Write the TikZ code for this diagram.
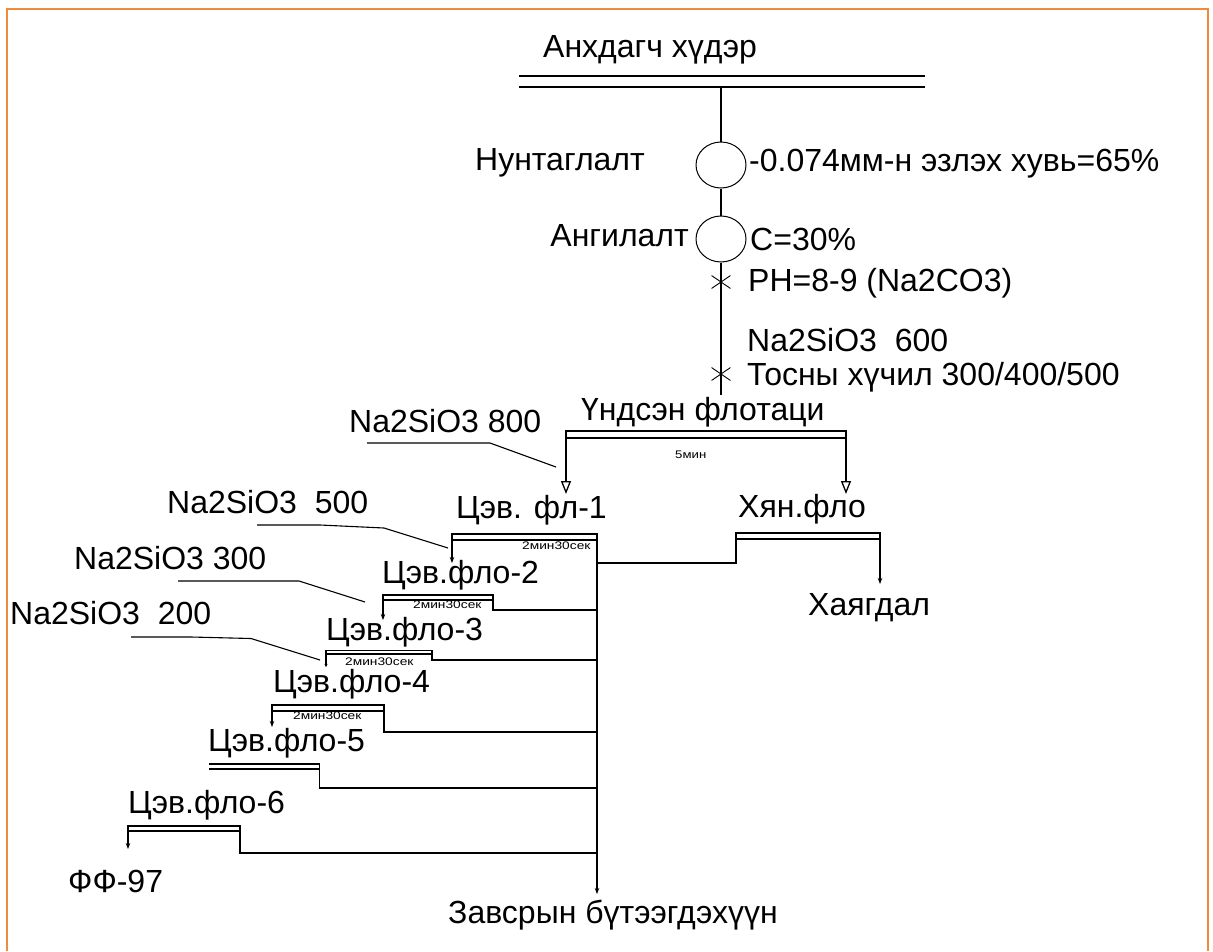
\documentclass[tikz,border=0pt]{standalone}
\usepackage{fontspec}
\setmainfont{Liberation Sans}
\usetikzlibrary{arrows.meta,shapes.geometric,shapes.misc}
\definecolor{frameor}{RGB}{240,138,60}
\begin{document}
\begin{tikzpicture}[x=1pt,y=-1pt,
 lbl/.style={font=\fontsize{32}{38}\selectfont,inner sep=0pt,anchor=base west},
 lble/.style={lbl,anchor=base east},
 small/.style={font=\fontsize{11}{13}\selectfont,inner sep=0pt,anchor=base west},
 ln/.style={line width=1.3pt},
 ldr/.style={line width=1.1pt},
 oarr/.style={-{Triangle[open,length=13pt,width=10pt]}},
 sarr/.style={-{Stealth[length=6pt,width=4.5pt]}},
 mill/.style={draw,ellipse,line width=1pt,minimum width=50pt,minimum height=46pt,inner sep=0pt},
 crossmk/.style={draw,cross out,line width=0.9pt,minimum width=18pt,minimum height=12pt,inner sep=0pt}]
\useasboundingbox (0,0) rectangle (1213,951);
% frame
\coordinate (fr1) at (7,951); \coordinate (fr2) at (7,9);
\coordinate (fr3) at (1208,9); \coordinate (fr4) at (1208,951);
\draw[frameor,line width=2.2pt] (fr1) -- (fr2) -- (fr3) -- (fr4);

% feed
\node[lbl] (ore) at (543,57) {Анхдагч хүдэр};
\coordinate (d1a) at (519,76); \coordinate (d1b) at (925,76);
\coordinate (d2a) at (519,87); \coordinate (d2b) at (925,87);
\draw[ln] (d1a) -- (d1b);
\draw[ln] (d2a) -- (d2b);
\coordinate (feed) at (721,87);
\node[mill] (m1) at (721,165) {};
\node[mill] (m2) at (721,239) {};
\coordinate (fend) at (721,395);
\draw[ln] (feed) -- (m1.north);
\draw[ln] (m1.south) -- (m2.north);
\draw[ln] (m2.south) -- (fend);
\node[crossmk] (x1) at (721,282) {};
\node[crossmk] (x2) at (721,374) {};

\node[lble] (grind) at (645,170) {Нунтаглалт};
\node[lbl] (grindp) at (749,171) {-0.074мм-н эзлэх хувь=65\%};
\node[lble] (cls) at (689,246) {Ангилалт};
\node[lbl] (clsp) at (750,250) {C=30\%};
\node[lbl] (ph) at (748,291.5) {PH=8-9 (Na2CO3)};
\node[lbl] (r600) at (747,351.5) {Na2SiO3~~600};
\node[lbl] (oil) at (747,385) {Тосны хүчил 300/400/500};

% rougher
\node[lbl] (rough) at (581,420) {Үндсэн флотаци};
\coordinate (rA) at (566,431); \coordinate (rB) at (846,438);
\draw[ln] (rA) rectangle (rB);
\node[small] (t5) at (675,458) {\scalebox{1.2}[1]{5мин}};
\coordinate (rL) at (566,438); \coordinate (rLe) at (566,494);
\coordinate (rR) at (846,438); \coordinate (rRe) at (846,494);
\draw[ln,oarr] (rL) -- (rLe);
\draw[ln,oarr] (rR) -- (rRe);
\node[lbl] (r800) at (349,432.5) {Na2SiO3 800};
\coordinate (l8a) at (367,443); \coordinate (l8b) at (490,443); \coordinate (l8c) at (556,467);
\draw[ldr] (l8a) -- (l8b) -- (l8c);

\node[lbl] (c1) at (456,518) {Цэв. фл-1};
\node[lbl] (scav) at (738,517) {Хян.фло};

% cleaner 1
\coordinate (c1A) at (452,534); \coordinate (c1B) at (597,540);
\draw[ln] (c1A) rectangle (c1B);
\node[small] (t1) at (522,549) {\scalebox{1.25}[1]{2мин30сек}};
\coordinate (c1L) at (452,540); \coordinate (c1Le) at (452,563);
\draw[ln,sarr] (c1L) -- (c1Le);
\coordinate (col) at (597,540); \coordinate (cole) at (597,894);
\draw[ln,sarr] (col) -- (cole);

% scavenger
\coordinate (sA) at (736,533); \coordinate (sB) at (880,539);
\draw[ln] (sA) rectangle (sB);
\coordinate (sL) at (736,539); \coordinate (sLm) at (736,563); \coordinate (sJ) at (597,563);
\draw[ln] (sL) -- (sLm) -- (sJ);
\coordinate (sR) at (880,539); \coordinate (sRe) at (880,584);
\draw[ln,sarr] (sR) -- (sRe);
\node[lbl] (tail) at (808,615) {Хаягдал};

% reagent 500
\node[lbl] (r500) at (167,513) {Na2SiO3~~500};
\coordinate (l5a) at (257,525); \coordinate (l5b) at (320,525); \coordinate (l5c) at (384,528); \coordinate (l5d) at (448,548);
\draw[ldr] (l5a) -- (l5b) -- (l5c) -- (l5d);

% cleaner 2
\node[lbl] (c2) at (382,583) {Цэв.фло-2};
\coordinate (c2A) at (383,595); \coordinate (c2B) at (493,600);
\draw[ln] (c2A) rectangle (c2B);
\node[small] (t2) at (413,608) {\scalebox{1.25}[1]{2мин30сек}};
\coordinate (c2R) at (493,600); \coordinate (c2Rm) at (493,610); \coordinate (c2J) at (597,610);
\draw[ln] (c2R) -- (c2Rm) -- (c2J);
\coordinate (c2L) at (383,600); \coordinate (c2Le) at (383,620);
\draw[ln,sarr] (c2L) -- (c2Le);
\node[lbl] (r300) at (74,569) {Na2SiO3 300};
\coordinate (l3a) at (178,581); \coordinate (l3b) at (299,581); \coordinate (l3c) at (365,602);
\draw[ldr] (l3a) -- (l3b) -- (l3c);

% cleaner 3
\node[lbl] (c3) at (326,640) {Цэв.фло-3};
\coordinate (c3A) at (326,650.5); \coordinate (c3B) at (432,654);
\draw[ln] (c3A) rectangle (c3B);
\node[small] (t3) at (345,665) {\scalebox{1.25}[1]{2мин30сек}};
\coordinate (c3R) at (432,654); \coordinate (c3Rm) at (432,660); \coordinate (c3J) at (597,660);
\draw[ln] (c3R) -- (c3Rm) -- (c3J);
\coordinate (c3L) at (326,654); \coordinate (c3Le) at (326,667);
\draw[ln,-{Stealth[length=3pt,width=3pt]}] (c3L) -- (c3Le);
\node[lbl] (r200) at (10,624) {Na2SiO3~~200};
\coordinate (l2a) at (131,637); \coordinate (l2b) at (191,637); \coordinate (l2c) at (251,638.5); \coordinate (l2d) at (320,660);
\draw[ldr] (l2a) -- (l2b) -- (l2c) -- (l2d);

% cleaner 4
\node[lbl] (c4) at (273,692.5) {Цэв.фло-4};
\coordinate (c4A) at (272,705); \coordinate (c4B) at (384,711);
\draw[ln] (c4A) rectangle (c4B);
\node[small] (t4) at (293,719) {\scalebox{1.25}[1]{2мин30сек}};
\coordinate (c4R) at (384,711); \coordinate (c4Rm) at (384,732); \coordinate (c4J) at (597,732);
\draw[ln] (c4R) -- (c4Rm) -- (c4J);
\coordinate (c4L) at (272,711); \coordinate (c4Le) at (272,727);
\draw[ln,sarr] (c4L) -- (c4Le);

% cleaner 5
\node[lbl] (c5) at (208,751.5) {Цэв.фло-5};
\coordinate (c5a) at (209,764); \coordinate (c5b) at (319.5,764);
\coordinate (c5c) at (209,769); \coordinate (c5d) at (319.5,769);
\draw[ln] (c5a) -- (c5b);
\draw[ln] (c5c) -- (c5d);
\coordinate (c5Rm) at (319.5,788); \coordinate (c5J) at (597,788);
\draw[ln] (c5b) -- (c5Rm) -- (c5J);

% cleaner 6
\node[lbl] (c6) at (128,813) {Цэв.фло-6};
\coordinate (c6A) at (128,826); \coordinate (c6B) at (240,831);
\draw[ln] (c6A) rectangle (c6B);
\coordinate (c6R) at (240,831); \coordinate (c6Rm) at (240,853); \coordinate (c6J) at (597,853);
\draw[ln] (c6R) -- (c6Rm) -- (c6J);
\coordinate (c6L) at (128,831); \coordinate (c6Le) at (128,849);
\draw[ln,sarr] (c6L) -- (c6Le);

\node[lbl] (ff) at (68,892.5) {ФФ-97};
\node[lbl] (mid) at (448,923) {Завсрын бүтээгдэхүүн};
\end{tikzpicture}
\end{document}
